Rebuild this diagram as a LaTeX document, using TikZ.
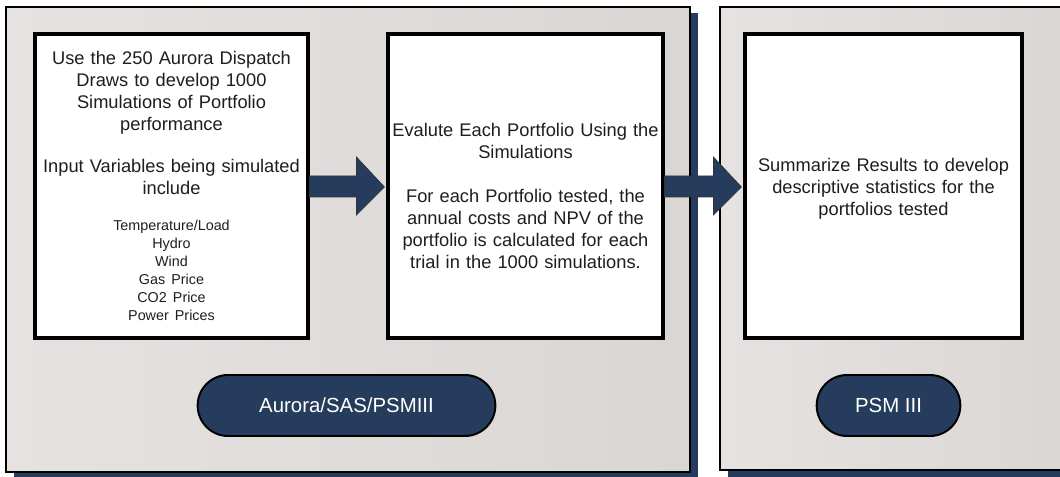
\documentclass[tikz,border=0pt]{standalone}
\usepackage{fontspec}
\setmainfont{Liberation Sans}
\usetikzlibrary{shapes.misc,calc}
\definecolor{navy}{HTML}{263C5D}
\definecolor{panellight}{HTML}{E5E2E1}
\definecolor{paneldark}{HTML}{DAD6D4}
\definecolor{ink}{HTML}{1E1E1E}

\tikzset{
	panel/.style={draw=black,line width=1.4pt,left color=panellight,right color=paneldark},
	simbox/.style={draw=black,line width=2.2pt,fill=white,text=ink,align=center,inner sep=0pt,
		text width=6.7cm,minimum height=7.6cm,font=\fontsize{13}{15.6}\selectfont},
	toolpill/.style={rounded rectangle,draw=black,line width=1.4pt,fill=navy,text=white,
		minimum height=1.525cm,font=\fontsize{14.5}{17}\selectfont},
	flowarrow/.style={fill=navy,draw=black!80,line width=0.5pt}
}

\begin{document}
\begin{tikzpicture}[x=0.025cm,y=-0.025cm]
		\clip (0,0) rectangle (1060,477);
		\fill[navy] (14,13) rectangle (698,485);
		\path[panel] (6,7) rectangle (690,472);
		\fill[navy] (728,13) rectangle (1075,485);
		\path[panel] (720,7) rectangle (1075,470);

		\node[simbox,minimum width=6.825cm] (draws) at (171.5,186) {Use the 250 Aurora Dispatch\\ Draws to develop 1000\\ Simulations of Portfolio\\ performance\par\vspace{14.5pt}
			Input Variables being simulated\\ include\par\vspace{13pt}
			\fontsize{10.2}{12.8}\selectfont Temperature/Load\\ Hydro\\ Wind\\ Gas Price\\ CO2 Price\\ Power Prices\par};
		\node[simbox,minimum width=6.875cm] (evaluate) at (525.5,186) {\rule{0pt}{23.4pt}Evalute Each Portfolio Using the\\ Simulations\par\vspace{15.6pt}
			For each Portfolio tested, the\\ annual costs and NPV of the\\ portfolio is calculated for each\\ trial in the 1000 simulations.\par};
		\node[simbox,minimum width=6.925cm] (summary) at (883.5,186) {\rule{0pt}{13.6pt}Summarize Results to develop\\ descriptive statistics for the\\ portfolios tested\par};

		\draw[flowarrow] ($(draws.east)+(0,-10)$) -- ($(evaluate.west)+(-30,-10)$) -- ($(evaluate.west)+(-30,-29)$)
			-- ($(evaluate.west)+(-2,1)$) -- ($(evaluate.west)+(-30,29)$) -- ($(evaluate.west)+(-30,11)$) -- ($(draws.east)+(0,11)$) -- cycle;
		\draw[flowarrow] ($(evaluate.east)+(0,-10)$) -- ($(summary.west)+(-30,-10)$) -- ($(summary.west)+(-30,-29)$)
			-- ($(summary.west)+(-2,1)$) -- ($(summary.west)+(-30,29)$) -- ($(summary.west)+(-30,11)$) -- ($(evaluate.east)+(0,11)$) -- cycle;

		\node[toolpill,minimum width=7.675cm] (aurora) at (346.5,405.5) {Aurora/SAS/PSMIII};
		\node[toolpill,minimum width=3.825cm] (psm) at (888.5,405.5) {PSM III};
	\end{tikzpicture}
\end{document}
